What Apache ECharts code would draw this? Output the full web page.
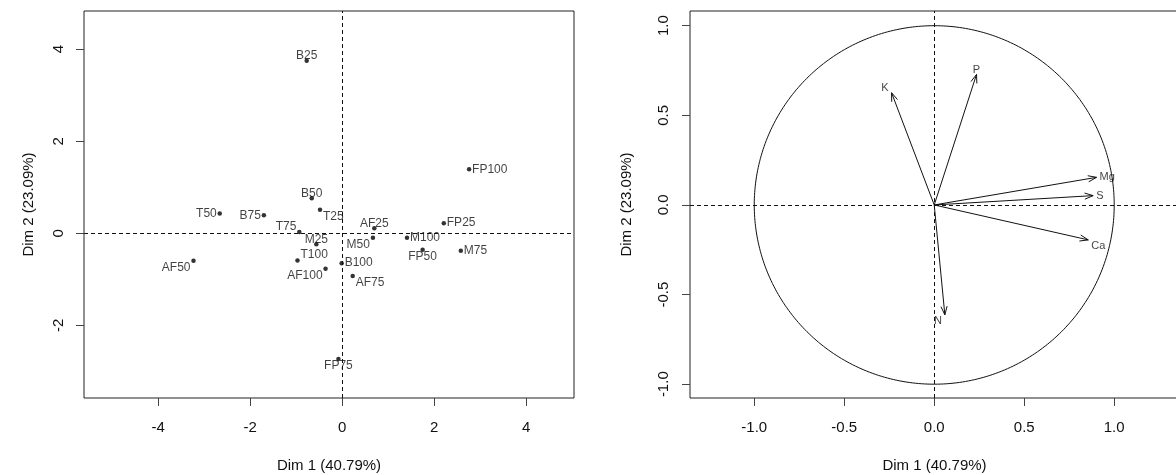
<!DOCTYPE html>
<html>
<head>
<meta charset="utf-8">
<script src="https://cdn.jsdelivr.net/npm/echarts@6/dist/echarts.min.js"></script>
<style>
  html, body { margin: 0; padding: 0; overflow: hidden; background: #fff; }
  #chart { width: 1180px; height: 475px; }
</style>
</head>
<body>
<div id="chart"></div>
<script>
// Individuals factor map: treatments and their coordinates on Dim 1 / Dim 2
const indNames = ['B25', 'B50', 'B75', 'B100', 'T25', 'T50', 'T75', 'T100', 'M25', 'M50',
                  'M75', 'M100', 'AF25', 'AF50', 'AF75', 'AF100', 'FP25', 'FP50', 'FP75', 'FP100'];
const indDim1 = [-0.77, -0.66, -1.70, -0.01, -0.48, -2.66, -0.93, -0.97, -0.56, 0.67,
                 2.58, 1.41, 0.70, -3.23, 0.23, -0.36, 2.21, 1.75, -0.08, 2.76];
const indDim2 = [3.75, 0.76, 0.39, -0.65, 0.51, 0.43, 0.03, -0.59, -0.24, -0.10,
                 -0.38, -0.10, 0.11, -0.60, -0.93, -0.77, 0.22, -0.36, -2.73, 1.39];

// Variables factor map (correlation circle)
const varNames = ['K', 'P', 'Mg', 'S', 'Ca', 'N'];
const varDim1 = [-0.237, 0.235, 0.902, 0.883, 0.856, 0.059];
const varDim2 = [0.626, 0.728, 0.154, 0.052, -0.195, -0.613];

// Tick values
const indTicksX = [-4, -2, 0, 2, 4];
const indTicksY = [-2, 0, 2, 4];
const varTicksX = [-1.0, -0.5, 0.0, 0.5, 1.0];
const varTicksY = [-1.0, -0.5, 0.0, 0.5, 1.0];

const dim1Title = 'Dim 1 (40.79%)';
const dim2Title = 'Dim 2 (23.09%)';

// Where each text label sits around its point
const indLabelSide = {
  B25: 't', B50: 't', B75: 'l', B100: 'r', T25: 'br', T50: 'l', T75: 'tl', T100: 'tr',
  M25: 't', M50: 'bl', M75: 'r', M100: 'r', AF25: 't', AF50: 'bl', AF75: 'br', AF100: 'bl',
  FP25: 'r', FP50: 'b', FP75: 'b', FP100: 'r'
};
const varLabelSide = { K: 'tl', P: 't', Mg: 'r', S: 'r', Ca: 'br', N: 'bl' };

const FONT = '"Liberation Sans", Arial, Helvetica, sans-serif';
const INK = '#111';
const AXIS_FS = 15;

function labelFor(side, s, fontSize) {
  const c = s / 2;
  const g = 3;
  const table = {
    l:  { position: [c - g, c],         align: 'right',  verticalAlign: 'middle' },
    r:  { position: [c + g, c],         align: 'left',   verticalAlign: 'middle' },
    t:  { position: [c, c + 1],         align: 'center', verticalAlign: 'bottom' },
    b:  { position: [c, c + 1],         align: 'center', verticalAlign: 'top' },
    tl: { position: [c - g, c + 1],     align: 'right',  verticalAlign: 'bottom' },
    tr: { position: [c + g, c],         align: 'left',   verticalAlign: 'bottom' },
    bl: { position: [c - g, c + 1],     align: 'right',  verticalAlign: 'top' },
    br: { position: [c + g, c + 1],     align: 'left',   verticalAlign: 'top' }
  };
  return Object.assign({
    show: true,
    formatter: '{b}',
    color: INK,
    fontFamily: FONT,
    fontSize: fontSize
  }, table[side]);
}

function xAxisCfg(gridIndex, min, max, ticks, fmt) {
  return {
    type: 'value', gridIndex, min, max,
    axisLine: { show: false, onZero: false },
    splitLine: { show: false },
    axisTick: { show: true, inside: false, length: 8, customValues: ticks,
                lineStyle: { color: '#444', width: 1 } },
    axisLabel: { customValues: ticks, formatter: fmt, margin: 22,
                 fontSize: AXIS_FS, color: INK, fontFamily: FONT },
    name: dim1Title, nameLocation: 'middle', nameGap: 60,
    nameTextStyle: { fontSize: AXIS_FS, color: INK, fontFamily: FONT }
  };
}

function yAxisCfg(gridIndex, min, max, ticks, fmt, labelMargin, nameGap) {
  return {
    type: 'value', gridIndex, min, max,
    axisLine: { show: false, onZero: false },
    splitLine: { show: false },
    axisTick: { show: true, inside: false, length: 8, customValues: ticks,
                lineStyle: { color: '#444', width: 1 } },
    axisLabel: { customValues: ticks, formatter: fmt, margin: labelMargin, rotate: 90,
                 fontSize: AXIS_FS, color: INK, fontFamily: FONT },
    name: dim2Title, nameLocation: 'middle', nameGap: nameGap, nameRotate: 90,
    nameTextStyle: { fontSize: AXIS_FS, color: INK, fontFamily: FONT }
  };
}

const dashed = {
  silent: true,
  symbol: 'none',
  label: { show: false },
  lineStyle: { color: '#111', width: 1, type: [4, 3] },
  data: [{ xAxis: 0 }, { yAxis: 0 }],
  animation: false
};

const DOT = 4.5;
const indData = indNames.map((n, i) => ({
  name: n,
  value: [indDim1[i], indDim2[i]],
  label: labelFor(indLabelSide[n], DOT, 12)
}));

const varTips = varNames.map((n, i) => ({
  name: n,
  value: [varDim1[i], varDim2[i]],
  label: labelFor(varLabelSide[n], 0, 11)
}));

const option = {
  animation: false,
  backgroundColor: '#fff',
  grid: [
    { left: 84, top: 11, width: 490, height: 387, show: true, outerBoundsMode: 'none',
      containLabel: false, borderColor: '#222', borderWidth: 1, backgroundColor: 'transparent' },
    { left: 690, top: 11, width: 489, height: 387, show: true, outerBoundsMode: 'none',
      containLabel: false, borderColor: '#222', borderWidth: 1, backgroundColor: 'transparent' }
  ],
  xAxis: [
    xAxisCfg(0, -5.61, 5.04, indTicksX, v => String(v)),
    xAxisCfg(1, -1.357, 1.36, varTicksX, v => v.toFixed(1))
  ],
  yAxis: [
    yAxisCfg(0, -3.58, 4.83, indTicksY, v => String(v), 18, 48),
    yAxisCfg(1, -1.077, 1.082, varTicksY, v => v.toFixed(1), 19, 56)
  ],
  series: [
    {
      type: 'scatter', xAxisIndex: 0, yAxisIndex: 0,
      symbol: 'circle', symbolSize: DOT,
      itemStyle: { color: '#000' },
      data: indData,
      markLine: dashed,
      emphasis: { disabled: true }
    },
    {
      // unit correlation circle
      type: 'custom', xAxisIndex: 1, yAxisIndex: 1,
      data: [[0, 0]],
      silent: true,
      renderItem: function (params, api) {
        const pts = [];
        for (let d = 0; d <= 360; d += 1) {
          const t = d * Math.PI / 180;
          pts.push(api.coord([Math.cos(t), Math.sin(t)]));
        }
        return { type: 'polyline', shape: { points: pts },
                 style: { stroke: '#111', lineWidth: 1, fill: null } };
      }
    },
    {
      // variable arrows from the origin
      type: 'custom', xAxisIndex: 1, yAxisIndex: 1,
      data: varNames.map((n, i) => [varDim1[i], varDim2[i]]),
      silent: true,
      renderItem: function (params, api) {
        const p0 = api.coord([0, 0]);
        const p1 = api.coord([api.value(0), api.value(1)]);
        const ang = Math.atan2(p1[1] - p0[1], p1[0] - p0[0]);
        const L = 9, A = Math.PI / 9;
        const h1 = [p1[0] - L * Math.cos(ang - A), p1[1] - L * Math.sin(ang - A)];
        const h2 = [p1[0] - L * Math.cos(ang + A), p1[1] - L * Math.sin(ang + A)];
        return {
          type: 'group',
          children: [
            { type: 'line', shape: { x1: p0[0], y1: p0[1], x2: p1[0], y2: p1[1] },
              style: { stroke: '#111', lineWidth: 1 } },
            { type: 'polyline', shape: { points: [h1, p1, h2] },
              style: { stroke: '#111', lineWidth: 1, fill: null } }
          ]
        };
      }
    },
    {
      // variable names at the arrow tips
      type: 'scatter', xAxisIndex: 1, yAxisIndex: 1,
      symbolSize: 0,
      data: varTips,
      markLine: dashed,
      emphasis: { disabled: true }
    }
  ]
};

const chart = echarts.init(document.getElementById('chart'), null, { renderer: 'canvas' });
chart.setOption(option);
</script>
</body>
</html>
